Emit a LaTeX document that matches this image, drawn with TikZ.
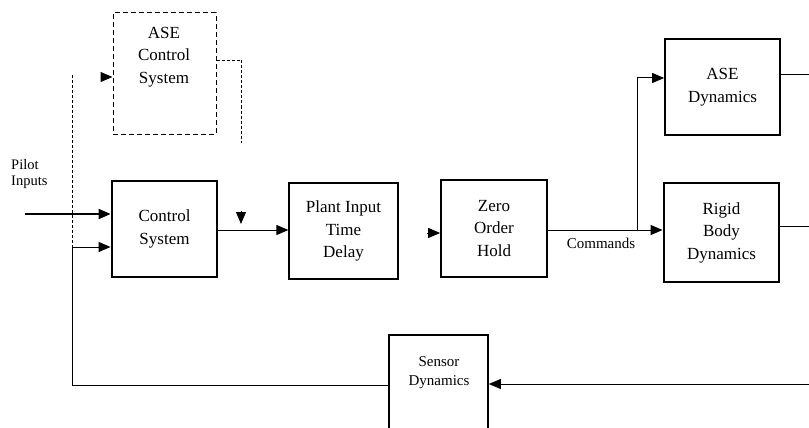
\documentclass[tikz,border=0pt]{standalone}
\usepackage{fontspec}
\setmainfont{Liberation Serif}
\usepackage{tikz}
\usetikzlibrary{arrows.meta, positioning, calc}

\tikzset{
  blk/.style={draw, line width=1.7pt, minimum width=105pt, minimum height=96pt,
    align=center, inner sep=0pt, font=\fontsize{17}{22.5}\selectfont},
  thickblk/.style={blk, line width=2.8pt},
  thinblk/.style={blk, line width=1.2pt},
  dashblk/.style={blk, line width=1pt, dash pattern=on 5pt off 3pt},
  lbl/.style={inner sep=0pt, align=left, font=\fontsize{14.5}{16}\selectfont},
  wire/.style={line width=1pt},
  arr/.style={wire, -{Triangle[length=12pt,width=10pt]}},
  dwire/.style={line width=0.9pt, dash pattern=on 3pt off 2pt},
}

\begin{document}
\begin{tikzpicture}[x=1pt,y=-1pt]
  \clip (0,0) rectangle (809,428);
  \path[use as bounding box] (0,0) rectangle (809,428);

  % blocks
  \node[dashblk, minimum width=103pt, minimum height=121pt] (asectl) at (164.5,73.5) {};
  \node[align=center, font=\fontsize{17}{22.5}\selectfont] (asectltxt) at (164,57) {ASE\\Control\\System};
  \node[thickblk] (ctrl) at (164.5,229) {Control\\System};
  \node[thinblk, minimum width=109pt] (delay) at (343.5,231) {Plant Input\\Time\\Delay};
  \node[blk, minimum width=106pt, minimum height=97pt] (zoh) at (494,228.5) {Zero\\Order\\Hold};
  \node[blk, minimum width=115pt] (asedyn) at (722.5,87) {ASE\\Dynamics};
  \node[thickblk, minimum width=115pt, minimum height=99pt] (rigid) at (721.5,232.5) {Rigid\\Body\\Dynamics};
  \node[blk, minimum width=99pt, minimum height=110pt, anchor=north] (sensor) at (438.5,334) {};
  \node[lbl, align=center, font=\fontsize{15}{19}\selectfont] (sensortxt) at (439,373) {Sensor\\Dynamics};

  % labels
  \node[lbl, anchor=north west] (pilot) at (11,159) {Pilot\\Inputs};
  \node[lbl, font=\fontsize{15}{17}\selectfont] (cmds) at (601,243) {Commands};

  % free ends
  \coordinate (pin) at (25,214);
  \coordinate (fbL) at (72,385);
  \coordinate (fbJ) at (72,247);
  \coordinate (dTop) at (72,75);
  \coordinate (aseR) at (241,60);
  \coordinate (aseD) at (241,143);
  \coordinate (mrk) at (241,211);
  \coordinate (acIn) at (101,77);
  \coordinate (zIn) at (427,233);
  \coordinate (br) at (637,230);
  \coordinate (aseOut) at (809,75);
  \coordinate (rigOut) at (809,226);
  \coordinate (fbR) at (809,384);

  % connectors
  \draw[arr, line width=1.8pt] (pin) -- (pin -| ctrl.west);
  \draw[arr] (fbJ) -- (fbJ -| ctrl.west);
  \draw[wire] (sensor.west |- fbL) -- (fbL) -- (fbJ);
  \draw[dwire] (dTop) -- (fbJ);
  \draw[arr] (acIn) -- (acIn -| asectl.west);
  \draw[dwire] (asectl.east |- aseR) -- (aseR) -- (aseD);
  \draw[arr] (mrk) -- ++(0,13);
  \draw[arr] (ctrl.east |- 0,230) -- (delay.west |- 0,230);
  \draw[arr] (zIn) -- (zIn -| zoh.west);
  \draw[arr] (zoh.east |- br) -- (br -| rigid.west);
  \draw[arr] (br) |- (asedyn.west |- 0,78);
  \draw[wire] (asedyn.east |- aseOut) -- (aseOut);
  \draw[wire] (rigid.east |- rigOut) -- (rigOut);
  \draw[arr] (fbR) -- (fbR -| sensor.east);
\end{tikzpicture}
\end{document}
